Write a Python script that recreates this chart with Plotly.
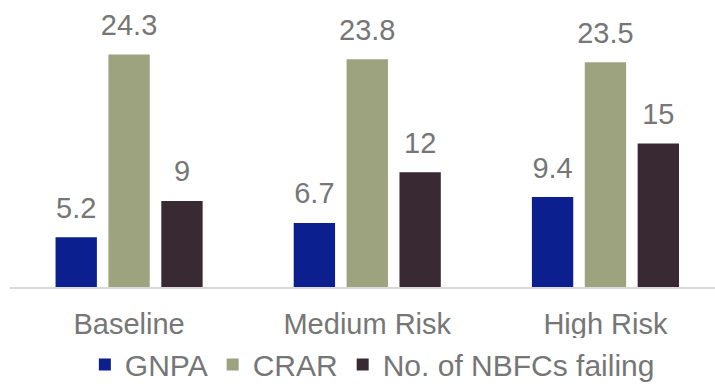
import plotly.graph_objects as go

categories = ["Baseline", "Medium Risk", "High Risk"]
gnpa = [5.2, 6.7, 9.4]
crar = [24.3, 23.8, 23.5]
nbfcs_failing = [9, 12, 15]

series_names = ["GNPA", "CRAR", "No. of NBFCs failing"]
series_colors = ["#0b1f8e", "#9da27f", "#392932"]

FONT = "Arial, Liberation Sans, sans-serif"
TEXT_COLOR = "#767676"
GAP = 0.334

fig = go.Figure()
for i, (name, values, color) in enumerate(zip(series_names, [gnpa, crar, nbfcs_failing], series_colors)):
    fig.add_trace(go.Bar(
        x=categories,
        y=values,
        name=name,
        offsetgroup=str(i),
        marker=dict(color=color, line=dict(width=0)),
    ))
    # value labels above each bar; the invisible marker sets their clearance
    fig.add_trace(go.Scatter(
        x=categories,
        y=values,
        offsetgroup=str(i),
        mode="markers+text",
        marker=dict(size=18, opacity=0),
        text=[f"{v:g}" for v in values],
        textposition="top center",
        textfont=dict(family=FONT, size=29, color=TEXT_COLOR),
        showlegend=False,
        hoverinfo="skip",
        cliponaxis=False,
    ))

fig.update_layout(
    width=715,
    height=392,
    margin=dict(l=10, r=0, t=0, b=105),
    paper_bgcolor="white",
    plot_bgcolor="white",
    barmode="group",
    scattermode="group",
    bargap=GAP,
    scattergap=GAP,
    bargroupgap=0.218,
    font=dict(family=FONT, size=29, color=TEXT_COLOR),
    showlegend=True,
    legend=dict(
        orientation="h",
        x=0.514,
        xanchor="center",
        y=-0.27,
        yanchor="middle",
        font=dict(family=FONT, size=30, color=TEXT_COLOR),
        itemwidth=30,
        traceorder="normal",
    ),
    xaxis=dict(
        range=[-0.5, 2.46],
        showline=True,
        linecolor="#d9d9d9",
        linewidth=1.5,
        showgrid=False,
        ticks="",
        ticklabelstandoff=10,
        tickfont=dict(family=FONT, size=29, color=TEXT_COLOR),
        zeroline=False,
    ),
    yaxis=dict(
        range=[0, 30],
        visible=False,
        showgrid=False,
        zeroline=False,
    ),
)

fig.write_html("out.html")
